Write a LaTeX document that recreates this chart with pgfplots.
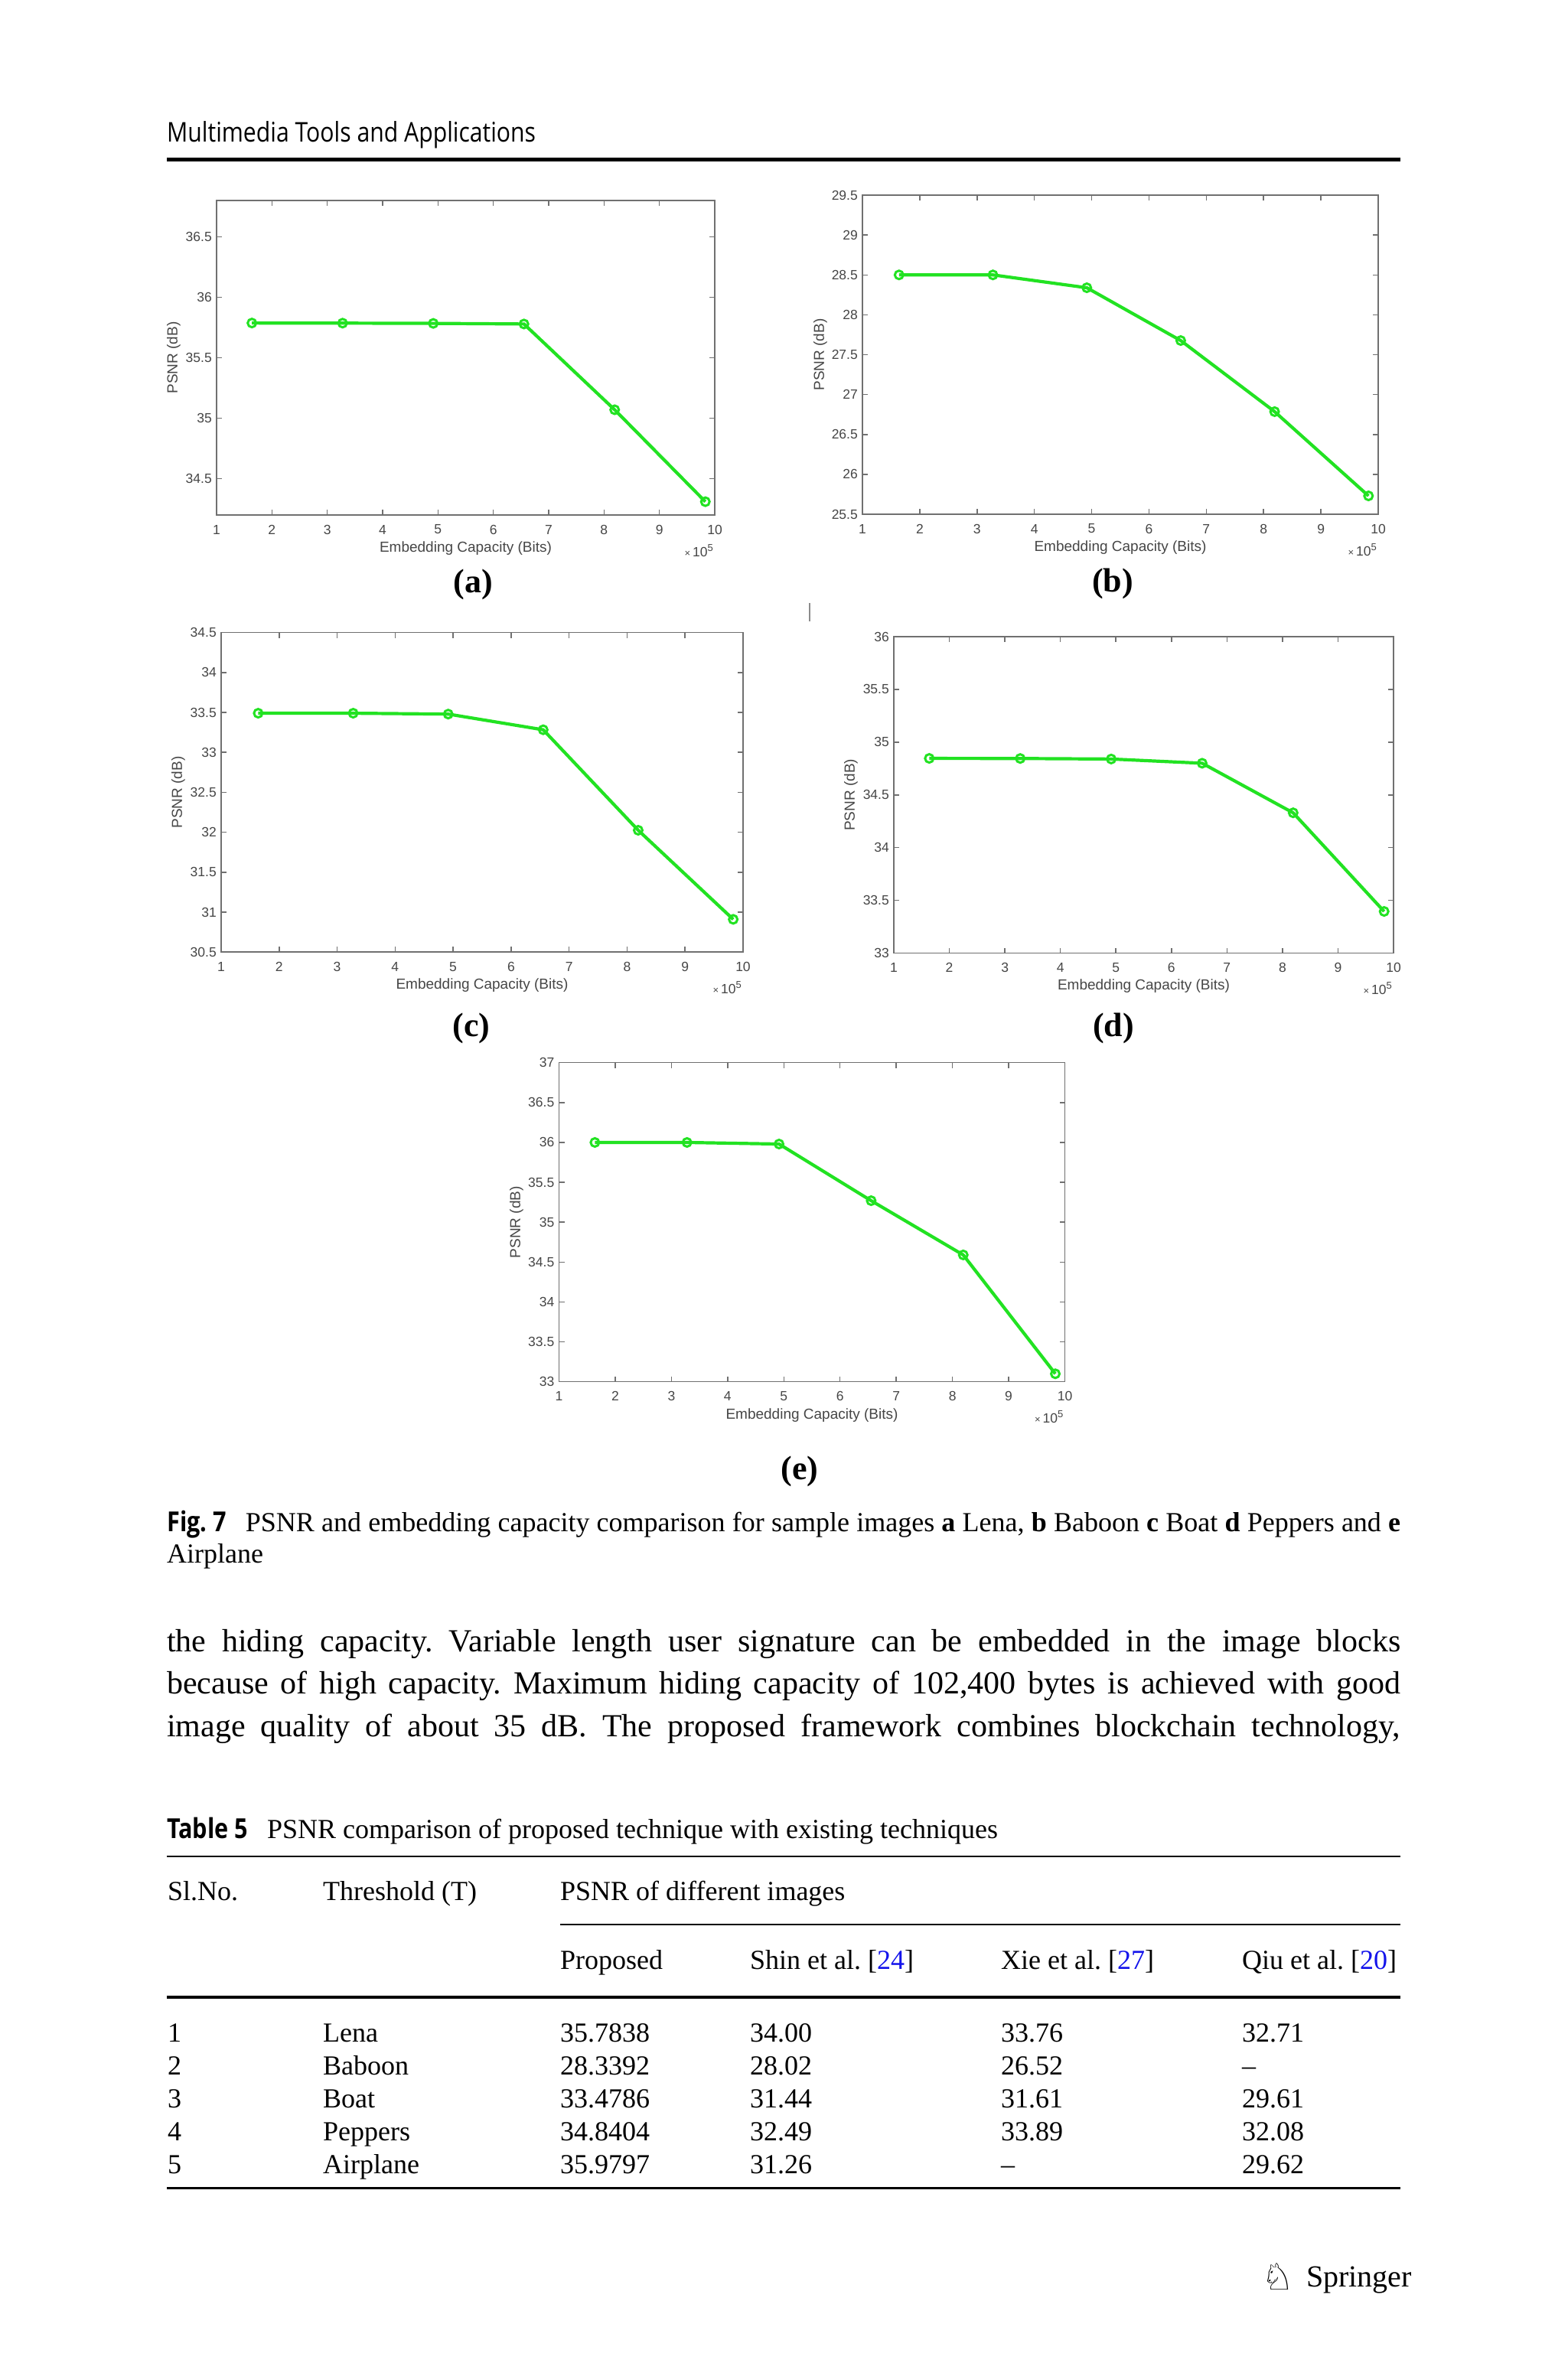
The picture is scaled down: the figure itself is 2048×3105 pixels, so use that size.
\documentclass[border=0pt]{standalone}
\usepackage{pgfplots}
\pgfplotsset{compat=1.18}
\usepackage{fontspec}
\setmainfont{Liberation Serif}
\newfontfamily\plotfont{Liberation Sans}
\newfontfamily\hdrfont[FakeStretch=0.85]{Open Sans}
\newfontfamily\symfont{DejaVu Sans}

\definecolor{psnrgreen}{RGB}{34,226,34}
\definecolor{axgray}{RGB}{112,112,112}
\definecolor{txtgray}{RGB}{70,70,70}
\definecolor{citeblue}{RGB}{20,20,235}

\newcommand\tickfont{\plotfont\fontsize{17.5pt}{17.5pt}\selectfont}
\newcommand\labfont{\plotfont\fontsize{19pt}{19pt}\selectfont}
\newcommand\powten{{\fontsize{13pt}{13pt}\selectfont ×}\,10\raisebox{7pt}{\fontsize{13pt}{13pt}\selectfont 5}}

% one MATLAB-like panel
\pgfplotsset{
  psnr/.style={
    scale only axis, anchor=north west, clip=false,
    xmin=1, xmax=10, xtick={1,2,...,10},
    scaled ticks=false,
    tick align=inside, tick pos=both,
    major tick length=7pt,
    axis line style={draw=axgray, line width=1.5pt},
    tick style={draw=axgray, line width=1.5pt},
    tick label style={font=\tickfont, text=txtgray, inner sep=0pt},
    xticklabel style={anchor=center, yshift=-19pt},
    yticklabel style={anchor=east, xshift=-6pt},
    /pgf/number format/assume math mode=true,
    xlabel={Embedding Capacity (Bits)},
    ylabel={PSNR (dB)},
    label style={font=\labfont, text=txtgray},
    xlabel style={at={(axis description cs:0.5,0)}, anchor=center, yshift=-43.5pt},
    every axis plot post/.append style={draw=psnrgreen, line width=4.2pt, mark=o,
      mark size=5.5pt, mark options={draw=psnrgreen, fill=none, line width=3pt}},
    after end axis/.code={
      \node[anchor=base east, inner sep=0pt, font=\tickfont, text=txtgray,
            yshift=-54pt, xshift=-2pt] at (rel axis cs:1,0) {\powten};
    },
  }
}

\begin{document}
\frenchspacing
\begin{tikzpicture}
\path[use as bounding box, fill=white] (0pt,0pt) rectangle (2048pt,-3105pt);

% running head
\node[anchor=base west, inner sep=0pt] at (218pt,-185pt)
  {\hdrfont\fontsize{35.5pt}{40pt}\selectfont Multimedia Tools and Applications};
\fill (218pt,-206pt) rectangle (1830pt,-211pt);

% (a) Lena
\begin{axis}[psnr, at={(283pt,-262pt)}, width=651pt, height=411pt,
  ymin=34.2, ymax=36.8, ytick={34.5,35,35.5,36,36.5},
  ylabel style={at={(axis description cs:-0.086,0.5)}, anchor=center}]
\addplot coordinates {(1.6384,35.787) (3.2768,35.786) (4.9152,35.784)
  (6.5536,35.779) (8.192,35.07) (9.8304,34.31)};
\end{axis}
\node[anchor=base, inner sep=0pt] at (618pt,-774pt)
  {\fontsize{44pt}{44pt}\selectfont\bfseries (a)};

% (b) Baboon
\begin{axis}[psnr, at={(1127pt,-255pt)}, width=674pt, height=417pt,
  ymin=25.5, ymax=29.5, ytick={25.5,26,26.5,27,27.5,28,28.5,29,29.5},
  ylabel style={at={(axis description cs:-0.0816,0.5)}, anchor=center}]
\addplot coordinates {(1.6384,28.50) (3.2768,28.50) (4.9152,28.339)
  (6.5536,27.677) (8.192,26.786) (9.8304,25.73)};
\end{axis}
\node[anchor=base, inner sep=0pt] at (1454pt,-773pt)
  {\fontsize{44pt}{44pt}\selectfont\bfseries (b)};

\draw[black!45, line width=1.5pt] (1058pt,-788pt) -- (1058pt,-812pt);

% (c) Boat
\begin{axis}[psnr, at={(289pt,-826.6pt)}, width=682pt, height=417.6pt,
  ymin=30.5, ymax=34.5, ytick={30.5,31,31.5,32,32.5,33,33.5,34,34.5},
  ylabel style={at={(axis description cs:-0.0821,0.5)}, anchor=center}]
\addplot coordinates {(1.6384,33.49) (3.2768,33.49) (4.9152,33.479)
  (6.5536,33.283) (8.192,32.025) (9.8304,30.91)};
\end{axis}
\node[anchor=base, inner sep=0pt] at (616pt,-1354pt)
  {\fontsize{44pt}{44pt}\selectfont\bfseries (c)};

% (d) Peppers
\begin{axis}[psnr, at={(1168pt,-832pt)}, width=653pt, height=413.5pt,
  ymin=33, ymax=36, ytick={33,33.5,34,34.5,35,35.5,36},
  ylabel style={at={(axis description cs:-0.0858,0.5)}, anchor=center}]
\addplot coordinates {(1.6384,34.846) (3.2768,34.845) (4.9152,34.840)
  (6.5536,34.80) (8.192,34.33) (9.8304,33.395)};
\end{axis}
\node[anchor=base, inner sep=0pt] at (1455pt,-1354pt)
  {\fontsize{44pt}{44pt}\selectfont\bfseries (d)};

% (e) Airplane
\begin{axis}[psnr, at={(730.5pt,-1388.7pt)}, width=661pt, height=417pt,
  ymin=33, ymax=37, ytick={33,33.5,34,34.5,35,35.5,36,36.5,37},
  ylabel style={at={(axis description cs:-0.084,0.5)}, anchor=center}]
\addplot coordinates {(1.6384,36.0) (3.2768,36.0) (4.9152,35.980)
  (6.5536,35.27) (8.192,34.59) (9.8304,33.10)};
\end{axis}
\node[anchor=base, inner sep=0pt] at (1045pt,-1933pt)
  {\fontsize{44pt}{44pt}\selectfont\bfseries (e)};

% figure caption
\begin{scope}[every node/.style={anchor=base west, inner sep=0pt,
    font=\fontsize{36pt}{40pt}\selectfont}]
\node at (218pt,-2001pt) {\makebox[1612pt][s]{{\hdrfont\bfseries Fig.\ 7}\hspace{25pt}PSNR and
  embedding capacity comparison for sample images \textbf{a} Lena, \textbf{b} Baboon
  \textbf{c} Boat \textbf{d} Peppers and \textbf{e}}};
\node at (218pt,-2042pt) {Airplane};
\end{scope}

% body text
\begin{scope}[every node/.style={anchor=base west, inner sep=0pt,
    font=\fontsize{42pt}{50pt}\selectfont}]
\node at (218pt,-2158pt) {\makebox[1612pt][s]{the hiding capacity. Variable length
  user signature can be embedded in the image blocks}};
\node at (218pt,-2213.5pt) {\makebox[1612pt][s]{because of high capacity. Maximum
  hiding capacity of 102,400 bytes is achieved with good}};
\node at (218pt,-2269pt) {\makebox[1612pt][s]{image quality of about 35 dB. The
  proposed framework combines blockchain technology,}};
\end{scope}

% Table 5
\begin{scope}[every node/.style={anchor=base west, inner sep=0pt,
    font=\fontsize{36pt}{40pt}\selectfont}]
\node at (218pt,-2402pt) {{\hdrfont\bfseries Table 5}\hspace{25pt}PSNR comparison of
  proposed technique with existing techniques};
\fill (218pt,-2424.8pt) rectangle (1830pt,-2427.3pt);
\node at (219pt,-2483pt) {Sl.No.};
\node at (422pt,-2483pt) {Threshold (T)};
\node at (732pt,-2483pt) {PSNR of different images};
\fill (732pt,-2513.7pt) rectangle (1830pt,-2516.3pt);
\node at (732pt,-2573pt) {Proposed};
\node at (980pt,-2573pt) {Shin et al. [\textcolor{citeblue}{24}]};
\node at (1308pt,-2573pt) {Xie et al. [\textcolor{citeblue}{27}]};
\node at (1623pt,-2573pt) {Qiu et al. [\textcolor{citeblue}{20}]};
\fill (218pt,-2607.7pt) rectangle (1830pt,-2612.3pt);
\node at (219pt,-2668pt) {1};   \node at (422pt,-2668pt) {Lena};
\node at (732pt,-2668pt) {35.7838}; \node at (980pt,-2668pt) {34.00};
\node at (1308pt,-2668pt) {33.76};  \node at (1623pt,-2668pt) {32.71};
\node at (219pt,-2711pt) {2};   \node at (422pt,-2711pt) {Baboon};
\node at (732pt,-2711pt) {28.3392}; \node at (980pt,-2711pt) {28.02};
\node at (1308pt,-2711pt) {26.52};  \node at (1623pt,-2711pt) {--};
\node at (219pt,-2754pt) {3};   \node at (422pt,-2754pt) {Boat};
\node at (732pt,-2754pt) {33.4786}; \node at (980pt,-2754pt) {31.44};
\node at (1308pt,-2754pt) {31.61};  \node at (1623pt,-2754pt) {29.61};
\node at (219pt,-2797pt) {4};   \node at (422pt,-2797pt) {Peppers};
\node at (732pt,-2797pt) {34.8404}; \node at (980pt,-2797pt) {32.49};
\node at (1308pt,-2797pt) {33.89};  \node at (1623pt,-2797pt) {32.08};
\node at (219pt,-2840pt) {5};   \node at (422pt,-2840pt) {Airplane};
\node at (732pt,-2840pt) {35.9797}; \node at (980pt,-2840pt) {31.26};
\node at (1308pt,-2840pt) {--};     \node at (1623pt,-2840pt) {29.62};
\fill (218pt,-2857.5pt) rectangle (1830pt,-2860.5pt);
\end{scope}

% publisher mark
\node[anchor=base west, inner sep=0pt] at (1648pt,-2992pt)
  {\symfont\fontsize{48pt}{48pt}\selectfont\bfseries ♘};
\node[anchor=base west, inner sep=0pt] at (1707pt,-2988pt)
  {\fontsize{40pt}{40pt}\selectfont Springer};
\end{tikzpicture}
\end{document}
